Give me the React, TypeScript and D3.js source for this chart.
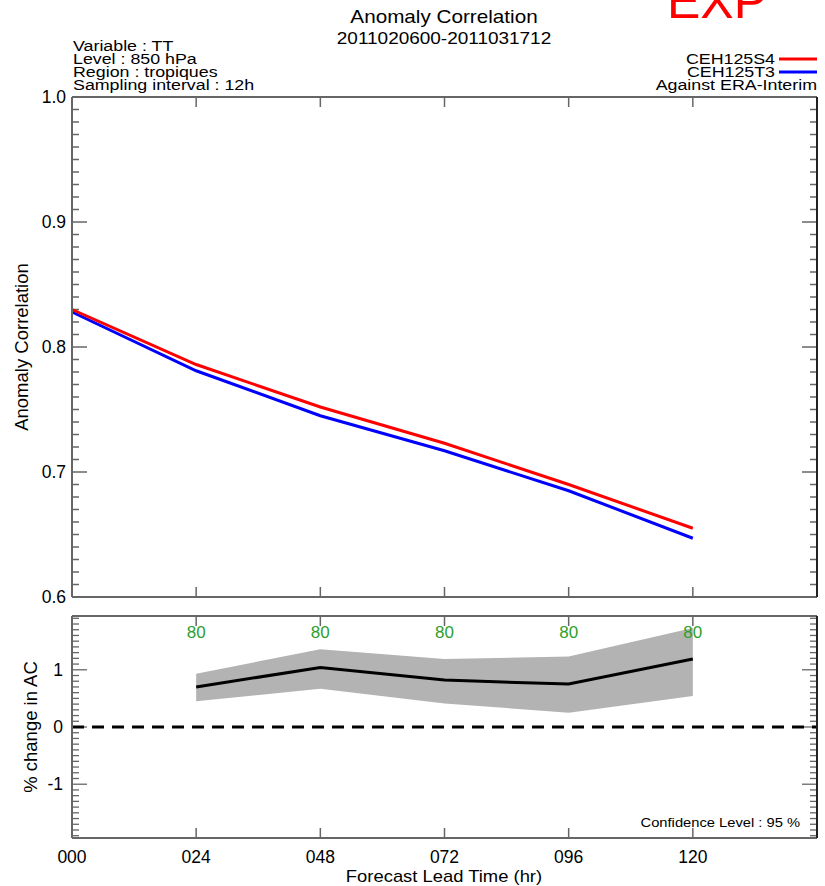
import React from "react";
import * as d3 from "d3";

// Forecast lead times (hours)
const leadTimes = [0, 24, 48, 72, 96, 120];
const xTickLabels = ["000", "024", "048", "072", "096", "120"];

// Anomaly correlation per experiment
const acS4 = [0.830, 0.786, 0.752, 0.723, 0.690, 0.655];
const acT3 = [0.828, 0.781, 0.745, 0.717, 0.685, 0.647];

// Percent change in AC with confidence band (from 024 onward)
const diffLead = [24, 48, 72, 96, 120];
const diffMean = [0.70, 1.04, 0.82, 0.75, 1.19];
const diffUpper = [0.93, 1.36, 1.19, 1.23, 1.73];
const diffLower = [0.45, 0.67, 0.41, 0.25, 0.54];
const sampleCounts = ["80", "80", "80", "80", "80"];

const acTicks = [0.6, 0.7, 0.8, 0.9, 1.0];
const pctTicks = [-1, 0, 1];

const headerLines = ["Variable : TT", "Level : 850 hPa", "Region : tropiques", "Sampling interval : 12h"];

const FONT = "'Liberation Sans', Arial, Helvetica, sans-serif";
const AXIS = "#666";

// Slightly widened text, as drawn by the plotting package's stroke font
function WideText(props: { x: number; y: number; anchor?: string; size: number; children: React.ReactNode }) {
  return (
    <text
      transform={`translate(${props.x},${props.y}) scale(1.15,1)`}
      textAnchor={props.anchor || "start"}
      fontSize={props.size}
    >
      {props.children}
    </text>
  );
}

export default function App() {
  const W = 825, H = 886;
  const left = 72, right = 817;
  const top1 = 97, bot1 = 597;
  const top2 = 616, bot2 = 838;

  const x = d3.scaleLinear().domain([0, 144]).range([left, right]);
  const y1 = d3.scaleLinear().domain([0.6, 1.0]).range([bot1, top1]);
  const y2 = d3.scaleLinear().domain([-1.94, 1.94]).range([bot2, top2]);

  const line = d3.line<number>().x((_, i) => x(leadTimes[i])).y((d) => y1(d));
  const meanLine = d3.line<number>().x((_, i) => x(diffLead[i])).y((d) => y2(d));
  const band = d3
    .area<number>()
    .x((_, i) => x(diffLead[i]))
    .y0((_, i) => y2(diffLower[i]))
    .y1((d) => y2(d));

  const acMinor = d3.range(60, 101).map((v) => v / 100);
  const pctMinor = d3.range(-19, 20).map((v) => v / 10);

  const frame = (t: number, b: number) => (
    <g>
      <line x1={left} x2={right} y1={t} y2={t} stroke={AXIS} strokeWidth={2} />
      <line x1={left} x2={right} y1={b} y2={b} stroke={AXIS} strokeWidth={2} />
      <line x1={left} x2={left} y1={t} y2={b} stroke={AXIS} strokeWidth={2} />
      <line x1={right} x2={right} y1={t} y2={b} stroke="#222" strokeWidth={2} />
      {leadTimes.slice(1).map((lt) => (
        <g key={lt}>
          <line x1={x(lt)} x2={x(lt)} y1={t} y2={t + 10} stroke={AXIS} strokeWidth={1.5} />
          <line x1={x(lt)} x2={x(lt)} y1={b} y2={b - 10} stroke={AXIS} strokeWidth={1.5} />
        </g>
      ))}
    </g>
  );

  return (
    <svg width={W} height={H} style={{ position: "absolute", left: 0, top: 0 }} fontFamily={FONT}>
      <rect width={W} height={H} fill="#fff" />

      {/* Titles */}
      <WideText x={444} y={23} anchor="middle" size={18}>Anomaly Correlation</WideText>
      <WideText x={444} y={44} anchor="middle" size={16.5}>2011020600-2011031712</WideText>
      <text x={717} y={18} textAnchor="middle" fontSize={50} fill="#ff0000">EXP</text>

      {headerLines.map((s, i) => (
        <WideText key={s} x={73} y={51 + i * 13} size={15.5}>{s}</WideText>
      ))}

      {/* Legend */}
      <WideText x={775} y={64} anchor="end" size={15.5}>CEH125S4</WideText>
      <line x1={779} x2={817} y1={59} y2={59} stroke="#ff0000" strokeWidth={3} />
      <WideText x={775} y={77} anchor="end" size={15.5}>CEH125T3</WideText>
      <line x1={779} x2={817} y1={72} y2={72} stroke="#0000ff" strokeWidth={3} />
      <WideText x={817} y={90} anchor="end" size={15.5}>Against ERA-Interim</WideText>

      {/* Upper panel: anomaly correlation */}
      {acMinor.map((v, i) => {
        const major = i % 10 === 0;
        const len = major ? 15 : 7;
        return (
          <g key={v}>
            <line x1={left} x2={left + len} y1={y1(v)} y2={y1(v)} stroke={AXIS} strokeWidth={1.5} />
            <line x1={right} x2={right - len} y1={y1(v)} y2={y1(v)} stroke={AXIS} strokeWidth={1.5} />
          </g>
        );
      })}
      {acTicks.map((v) => (
        <text key={v} x={66} y={y1(v) + 6} textAnchor="end" fontSize={17.5}>{v.toFixed(1)}</text>
      ))}
      <path d={line(acT3) || ""} fill="none" stroke="#0000ff" strokeWidth={3} />
      <path d={line(acS4) || ""} fill="none" stroke="#ff0000" strokeWidth={3} />
      {frame(top1, bot1)}
      <text transform={`translate(28,${(top1 + bot1) / 2}) rotate(-90)`} textAnchor="middle" fontSize={18.5}>Anomaly Correlation</text>

      {/* Lower panel: % change in AC */}
      {pctMinor.map((v) => {
        const major = Math.abs(v - Math.round(v)) < 1e-6;
        const len = major ? 15 : 7;
        return (
          <g key={v}>
            <line x1={left} x2={left + len} y1={y2(v)} y2={y2(v)} stroke={AXIS} strokeWidth={1.3} />
            <line x1={right} x2={right - len} y1={y2(v)} y2={y2(v)} stroke={AXIS} strokeWidth={1.3} />
          </g>
        );
      })}
      {pctTicks.map((v) => (
        <text key={v} x={63} y={y2(v) + 6} textAnchor="end" fontSize={17.5}>{String(v)}</text>
      ))}
      <path d={band(diffUpper) || ""} fill="#b3b3b3" />
      <path d={meanLine(diffMean) || ""} fill="none" stroke="#000" strokeWidth={3} />
      <line x1={left} x2={right} y1={y2(0)} y2={y2(0)} stroke="#000" strokeWidth={3} strokeDasharray="12,8" />
      {sampleCounts.map((s, i) => (
        <text key={i} x={x(diffLead[i])} y={638} textAnchor="middle" fontSize={17} fill="#2ca02c">{s}</text>
      ))}
      <WideText x={800} y={827} anchor="end" size={12.8}>Confidence Level : 95 %</WideText>
      {frame(top2, bot2)}
      <text transform={`translate(37,${y2(0)}) rotate(-90)`} textAnchor="middle" fontSize={18.5}>% change in AC</text>

      {/* X axis */}
      {leadTimes.map((lt, i) => (
        <text key={lt} x={x(lt)} y={863} textAnchor="middle" fontSize={17.5}>{xTickLabels[i]}</text>
      ))}
      <WideText x={444} y={882} anchor="middle" size={16}>Forecast Lead Time (hr)</WideText>
    </svg>
  );
}
